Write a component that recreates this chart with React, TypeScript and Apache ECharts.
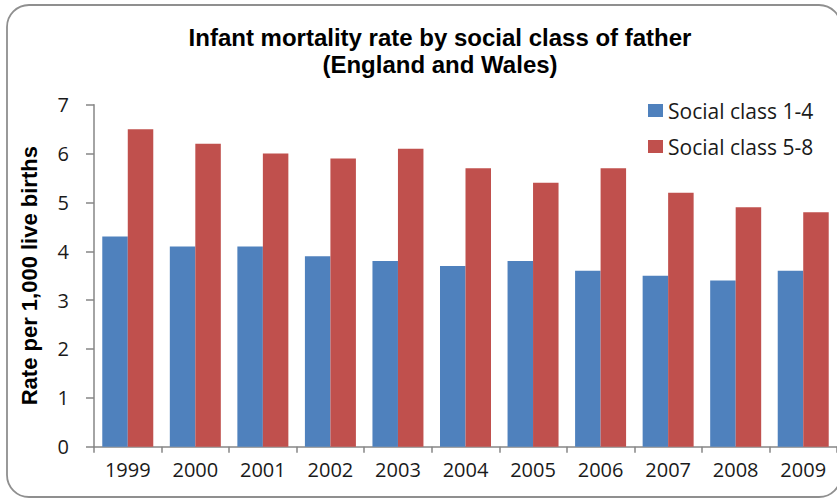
import React, { useEffect, useRef } from "react";
import * as echarts from "echarts";

const titleLines = ["Infant mortality rate by social class of father", "(England and Wales)"];
const yAxisTitle = "Rate per 1,000 live births";
const years = ["1999", "2000", "2001", "2002", "2003", "2004", "2005", "2006", "2007", "2008", "2009"];
const seriesNames = ["Social class 1-4", "Social class 5-8"];
const class14 = [4.3, 4.1, 4.1, 3.9, 3.8, 3.7, 3.8, 3.6, 3.5, 3.4, 3.6];
const class58 = [6.5, 6.2, 6.0, 5.9, 6.1, 5.7, 5.4, 5.7, 5.2, 4.9, 4.8];
const yMin = 0;
const yMax = 7;
const yInterval = 1;

const colors = ["#4F81BD", "#C0504D"];
const labelFont = "'Open Sans', 'Noto Sans', sans-serif";
const boldFont = "'Liberation Sans', Arial, sans-serif";

export default function App() {
  const ref = useRef<HTMLDivElement>(null);
  useEffect(() => {
    if (!ref.current) return;
    const chart = echarts.init(ref.current, undefined, { renderer: "svg" });
    chart.setOption({
      animation: false,
      backgroundColor: "#ffffff",
      color: colors,
      graphic: [
        {
          type: "rect",
          z: -10,
          shape: { x: 7, y: 5, width: 834, height: 492, r: 22 },
          style: { fill: "#ffffff", stroke: "#8f8f8f", lineWidth: 1.8 },
        },
        {
          type: "text",
          x: 440,
          y: 37,
          style: {
            text: titleLines[0],
            font: `bold 24px ${boldFont}`,
            fill: "#000000",
            textAlign: "center",
            textVerticalAlign: "middle",
          },
        },
        {
          type: "text",
          x: 440,
          y: 64,
          style: {
            text: titleLines[1],
            font: `bold 24px ${boldFont}`,
            fill: "#000000",
            textAlign: "center",
            textVerticalAlign: "middle",
          },
        },
      ],
      legend: {
        orient: "vertical",
        left: 643,
        top: 95,
        itemWidth: 15,
        itemHeight: 13,
        itemGap: 15,
        icon: "rect",
        textStyle: { fontFamily: labelFont, fontSize: 21, color: "#1a1a1a" },
        data: seriesNames,
      },
      grid: { left: 94, right: -6, top: 104.7, bottom: 52.3, containLabel: false },
      xAxis: {
        type: "category",
        data: years,
        axisLine: { lineStyle: { color: "#868686", width: 1.5 } },
        axisTick: { show: true, alignWithLabel: false, length: 6, lineStyle: { color: "#868686", width: 1.5 } },
        axisLabel: { fontFamily: labelFont, fontSize: 20, color: "#1a1a1a", margin: 13 },
        splitLine: { show: false },
      },
      yAxis: {
        type: "value",
        min: yMin,
        max: yMax,
        interval: yInterval,
        name: yAxisTitle,
        nameLocation: "middle",
        nameRotate: 90,
        nameGap: 54,
        nameTextStyle: { fontFamily: boldFont, fontWeight: "bold", fontSize: 22, color: "#000000" },
        axisLine: { show: true, lineStyle: { color: "#868686", width: 1.5 } },
        axisTick: { show: true, length: 8, lineStyle: { color: "#868686", width: 1.5 } },
        axisLabel: { fontFamily: labelFont, fontSize: 20, color: "#1a1a1a", margin: 25 },
        splitLine: { show: false },
      },
      series: [
        {
          name: seriesNames[0],
          type: "bar",
          data: class14,
          barGap: "0%",
          barCategoryGap: "24.5%",
          itemStyle: { color: colors[0] },
        },
        {
          name: seriesNames[1],
          type: "bar",
          data: class58,
          barGap: "0%",
          barCategoryGap: "24.5%",
          itemStyle: { color: colors[1] },
        },
      ],
    });
    return () => chart.dispose();
  }, []);
  return (
    <div
      ref={ref}
      style={{ position: "absolute", left: 0, top: 0, width: 837, height: 499 }}
    />
  );
}
